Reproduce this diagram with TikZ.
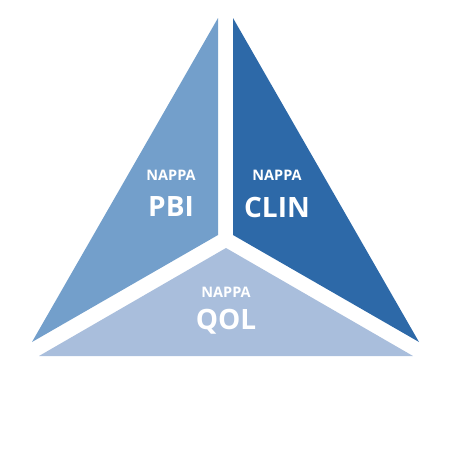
\documentclass[tikz,border=0pt]{standalone}
\usepackage{fontspec}
\setsansfont{Open Sans}
\usepackage{xcolor}
\definecolor{nppblue}{RGB}{115,159,203}
\definecolor{nppdark}{RGB}{45,105,168}
\definecolor{npplight}{RGB}{169,190,220}
\usetikzlibrary{positioning}

\begin{document}
\begin{tikzpicture}[x=1pt, y=-1pt,
  piece/.style={fill=#1, draw=none},
  tag/.style={font=\sffamily\bfseries\fontsize{14.5}{14.5}\selectfont, text=white, inner sep=0pt},
  bigname/.style={font=\sffamily\bfseries\fontsize{28}{28}\selectfont, text=white, inner sep=0pt}
]
\useasboundingbox (0,0) rectangle (450,450);

% PBI piece
\fill[piece=nppblue] (218,18) -- (218,235) -- (32,342) -- cycle;
\node[tag] (pbitag) at (171,175) {NAPPA};
\node[bigname] (pbi) at (171,207) {PBI};

% CLIN piece
\fill[piece=nppdark] (233,18) -- (233,235) -- (419,342) -- cycle;
\node[tag] (clintag) at (277,175) {NAPPA};
\node[bigname] (clin) at (277,207) {CLIN};

% QOL piece
\fill[piece=npplight] (226,248) -- (413,356) -- (39,356) -- cycle;
\node[tag] (qoltag) at (226,292) {NAPPA};
\node[bigname] (qol) at (226,322) {QOL};
\end{tikzpicture}
\end{document}
